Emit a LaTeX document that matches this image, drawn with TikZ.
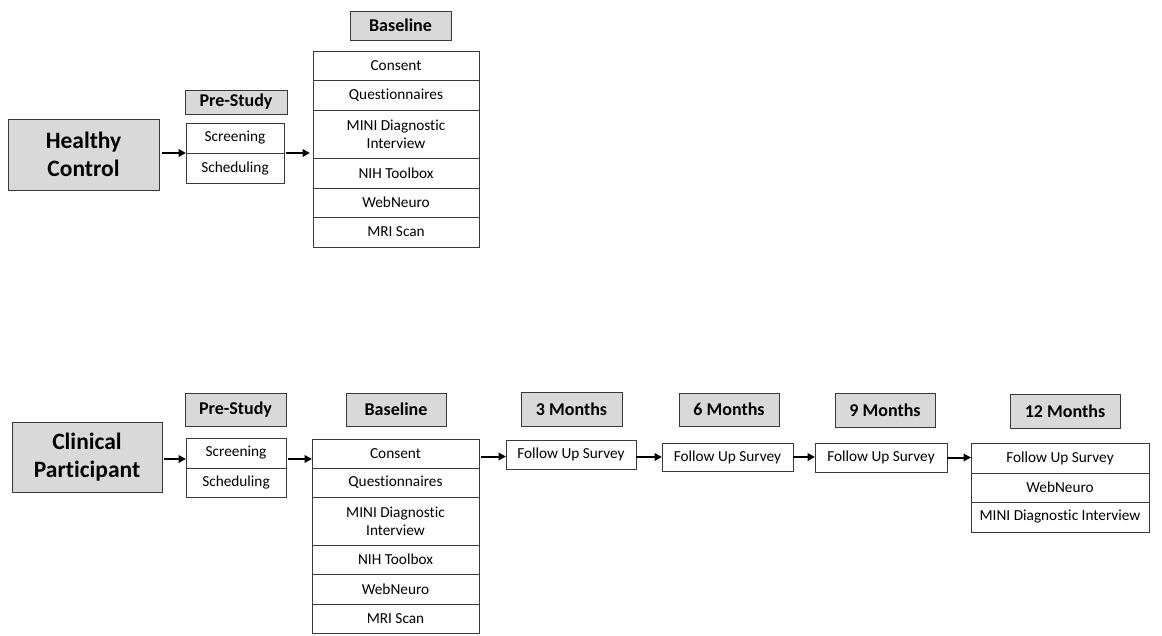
\documentclass[tikz,border=0pt]{standalone}
\usepackage{fontspec}
\setmainfont{Carlito}[Ligatures={NoCommon}]
\usetikzlibrary{arrows.meta,calc}
\definecolor{hdrgray}{HTML}{D9D9D9}
\definecolor{edge}{HTML}{3A3A3A}
\tikzset{
  box/.style={draw=edge, line width=0.9pt, fill=white, inner sep=0pt, outer sep=0pt,
    anchor=north west, align=center, font=\fontsize{15.3}{18}\selectfont},
  hdr/.style={box, fill=hdrgray, font=\bfseries\fontsize{18}{21}\selectfont},
  grp/.style={box, fill=hdrgray, font=\bfseries\fontsize{23.5}{28}\selectfont},
  arr/.style={-{Triangle[length=7.5pt,width=7.5pt]}, line width=2pt, draw=black},
}
\begin{document}
\begin{tikzpicture}[x=1pt,y=-1pt]
\useasboundingbox[fill=white] (0,0) rectangle (1162,635);

% ---------- Healthy Control row ----------
\node[grp, minimum width=151pt, minimum height=71pt] (hc) at (8,119) {Healthy\\Control};
\node[hdr, minimum width=102pt, minimum height=24pt] (ps1) at (185,90) {Pre-Study};
\node[box, minimum width=98pt, minimum height=30pt] (scr1) at (186,123) {Screening};
\node[box, minimum width=98pt, minimum height=30pt] (sch1) at (186,153) {Scheduling};
\node[hdr, minimum width=101pt, minimum height=29pt] (bl1) at (350,11) {Baseline};
\node[box, minimum width=166pt, minimum height=29pt] (c1) at (313,51) {Consent};
\node[box, minimum width=166pt, minimum height=30pt] (q1) at (313,80) {Questionnaires};
\node[box, minimum width=166pt, minimum height=48pt] (mi1) at (313,110) {MINI Diagnostic\\Interview};
\node[box, minimum width=166pt, minimum height=30pt] (n1) at (313,158) {NIH Toolbox};
\node[box, minimum width=166pt, minimum height=29pt] (w1) at (313,188) {WebNeuro};
\node[box, minimum width=166pt, minimum height=30pt] (r1) at (313,217) {MRI Scan};

\draw[arr, shorten <=3pt] (hc.east |- scr1.south west) -- (scr1.south west);
\draw[arr, shorten <=2pt, shorten >=3pt] (scr1.south east) -- (scr1.south east -| mi1.west);

% ---------- Clinical Participant row ----------
\node[grp, minimum width=150pt, minimum height=70pt] (cp) at (12,422) {Clinical\\Participant};
\node[hdr, minimum width=101pt, minimum height=33pt] (ps2) at (185,393) {Pre-Study};
\node[box, minimum width=100pt, minimum height=30pt] (scr2) at (186,438) {Screening};
\node[box, minimum width=100pt, minimum height=29pt] (sch2) at (186,468) {Scheduling};
\node[hdr, minimum width=100pt, minimum height=33pt] (bl2) at (346,393) {Baseline};
\node[box, minimum width=167pt, minimum height=29pt] (c2) at (312,439) {Consent};
\node[box, minimum width=167pt, minimum height=29pt] (q2) at (312,468) {Questionnaires};
\node[box, minimum width=167pt, minimum height=48pt] (mi2) at (312,497) {MINI Diagnostic\\Interview};
\node[box, minimum width=167pt, minimum height=29pt] (n2) at (312,545) {NIH Toolbox};
\node[box, minimum width=167pt, minimum height=30pt] (w2) at (312,574) {WebNeuro};
\node[box, minimum width=167pt, minimum height=29pt] (r2) at (312,604) {MRI Scan};

\node[hdr, minimum width=101pt, minimum height=34pt] (m3) at (521,392) {3 Months};
\node[box, minimum width=130pt, minimum height=29pt] (fu1) at (506,440) {Follow Up Survey};
\node[hdr, minimum width=100pt, minimum height=33pt] (m6) at (679,393) {6 Months};
\node[box, minimum width=131pt, minimum height=28pt] (fu2) at (662,443) {Follow Up Survey};
\node[hdr, minimum width=100pt, minimum height=34pt] (m9) at (835,393) {9 Months};
\node[box, minimum width=132pt, minimum height=29pt] (fu3) at (815,443) {Follow Up Survey};
\node[hdr, minimum width=110pt, minimum height=34pt] (m12) at (1010,394) {12 Months};
\node[box, minimum width=178pt, minimum height=30pt] (f4) at (971,443) {Follow Up Survey};
\node[box, minimum width=178pt, minimum height=29pt] (wn4) at (971,473) {WebNeuro};
\node[box, minimum width=178pt, minimum height=30pt] (mi4) at (971,502) {MINI Diagnostic Interview};

\draw[arr, shorten <=2pt] ([yshift=-6pt]cp.east |- scr2.west) -- ([yshift=-6pt]scr2.west);
\draw[arr, shorten <=2pt] ([yshift=-6pt]scr2.east) -- ([yshift=-6pt]scr2.east -| c2.west);
\draw[arr, shorten <=2pt] ([yshift=-2pt]c2.east |- fu1.west) -- ([yshift=-2pt]fu1.west);
\draw[arr] (fu1.east |- fu2.west) -- (fu2.west);
\draw[arr] (fu2.east) -- (fu2.east -| fu3.west);
\draw[arr] (fu3.east) -- (fu3.east -| f4.west);
\end{tikzpicture}
\end{document}
